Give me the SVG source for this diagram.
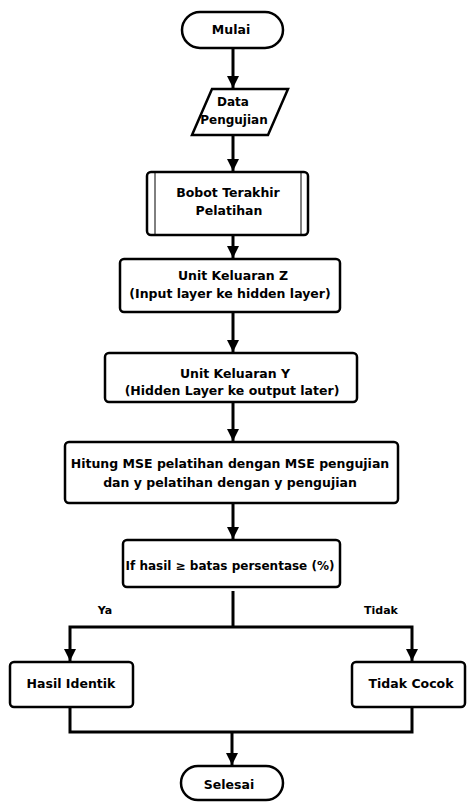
<svg xmlns="http://www.w3.org/2000/svg" width="467" height="802" viewBox="0 0 467 802">
<style>
.s{fill:#fff;stroke:#000;stroke-width:2.5}
.t{font-family:"DejaVu Sans",Verdana,sans-serif;font-weight:bold;font-size:12.5px;text-anchor:middle;fill:#000}
.l{font-size:11px}
.m{font-size:12px}
.c{fill:none;stroke:#000;stroke-width:3}
</style>
<defs>
<marker id="a" markerWidth="4" markerHeight="4" refX="4" refY="2" orient="auto" markerUnits="strokeWidth">
<path d="M0,0 L4,2 L0,4 Z" fill="#000"/>
</marker>
</defs>
<rect width="467" height="802" fill="#fff"/>
<g id="connectors">
<line class="c" x1="233" y1="48" x2="233" y2="88" marker-end="url(#a)"/>
<line class="c" x1="233" y1="135" x2="233" y2="171" marker-end="url(#a)"/>
<line class="c" x1="233" y1="235" x2="233" y2="258" marker-end="url(#a)"/>
<line class="c" x1="233" y1="312" x2="233" y2="352" marker-end="url(#a)"/>
<line class="c" x1="233" y1="402" x2="233" y2="441" marker-end="url(#a)"/>
<line class="c" x1="233" y1="503" x2="233" y2="539" marker-end="url(#a)"/>
<polyline class="c" points="233,591 233,627"/>
<polyline class="c" points="233,627 70,627 70,661" marker-end="url(#a)"/>
<polyline class="c" points="233,627 412,627 412,661" marker-end="url(#a)"/>
<polyline class="c" points="70,707 70,732 412,732 412,707"/>
<line class="c" x1="232" y1="732" x2="232" y2="765" marker-end="url(#a)"/>
<text class="t l" x="105" y="614">Ya</text>
<text class="t l" x="381" y="614">Tidak</text>
</g>
<g id="mulai">
<rect class="s" x="182" y="12" width="101" height="36" rx="18"/>
<text class="t" x="231" y="34">Mulai</text>
</g>
<g id="data">
<polygon class="s" points="212,89 288,89 268,135 192,135"/>
<text class="t m" x="233" y="106">Data</text>
<text class="t m" x="234" y="124">Pengujian</text>
</g>
<g id="bobot">
<rect class="s" x="147" y="172" width="161" height="63" rx="4"/>
<line x1="155" y1="172" x2="155" y2="235" stroke="#000" stroke-width="1"/>
<line x1="301" y1="172" x2="301" y2="235" stroke="#000" stroke-width="1"/>
<text class="t" x="228" y="197">Bobot Terakhir</text>
<text class="t" x="229" y="215">Pelatihan</text>
</g>
<g id="unitz">
<rect class="s" x="120" y="259" width="220" height="53" rx="4"/>
<text class="t" x="233" y="280">Unit Keluaran Z</text>
<text class="t" x="230" y="298">(Input layer ke hidden layer)</text>
</g>
<g id="unity">
<rect class="s" x="105" y="353" width="252" height="49" rx="4"/>
<text class="t" x="235" y="378">Unit Keluaran Y</text>
<text class="t" x="232" y="395">(Hidden Layer ke output later)</text>
</g>
<g id="mse">
<rect class="s" x="65" y="442" width="333" height="61" rx="4"/>
<text class="t" x="230" y="468">Hitung MSE pelatihan dengan MSE pengujian</text>
<text class="t" x="230" y="487">dan y pelatihan dengan y pengujian</text>
</g>
<g id="decision">
<rect class="s" x="123" y="540" width="217" height="47" rx="4"/>
<text class="t m" x="230" y="570">If hasil ≥ batas persentase (%)</text>
</g>
<g id="hasil">
<rect class="s" x="10" y="662" width="123" height="45" rx="4"/>
<text class="t" x="71" y="688">Hasil Identik</text>
</g>
<g id="tidakcocok">
<rect class="s" x="352" y="662" width="113" height="45" rx="4"/>
<text class="t" x="411" y="688">Tidak Cocok</text>
</g>
<g id="selesai">
<rect class="s" x="181" y="766" width="102" height="34" rx="17"/>
<text class="t" x="229" y="789">Selesai</text>
</g>
</svg>
